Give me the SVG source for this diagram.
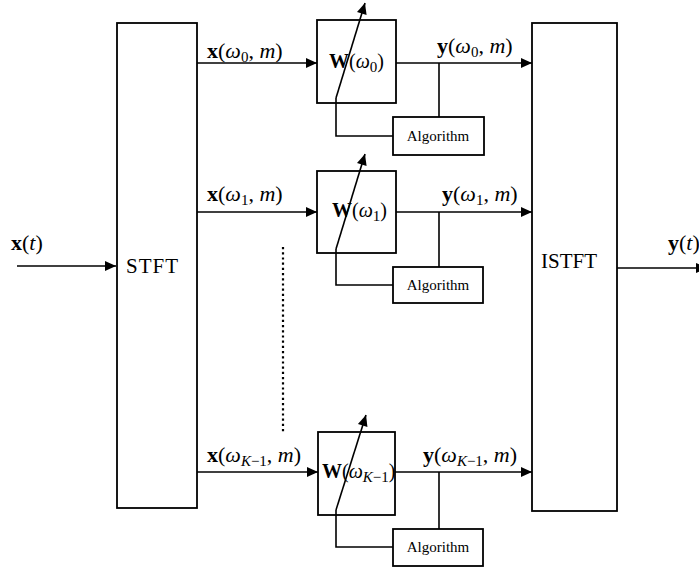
<svg xmlns="http://www.w3.org/2000/svg" width="699" height="567" viewBox="0 0 699 567">
<defs>
<style>
.box{fill:none;stroke:#000;stroke-width:1.8}
.ln{fill:none;stroke:#000;stroke-width:1.6}
.arr{marker-end:url(#ah)}
.dot{fill:none;stroke:#000;stroke-width:2.2;stroke-dasharray:2.2 3}
text{font-family:"Liberation Serif","Times New Roman",serif;fill:#000}
.lbl{font-size:22px}
.wl{font-size:20px}
.big{font-size:21px}
.alg{font-size:15px;text-anchor:middle}
.b{font-weight:bold;font-style:normal}
.i{font-style:italic}
.sub{font-size:15px}
</style>
<marker id="ah" markerUnits="userSpaceOnUse" markerWidth="12" markerHeight="10" refX="11" refY="5" orient="auto" overflow="visible">
<path d="M0,0 L11,5 L0,10 z" fill="#000"/>
</marker>
</defs>
<rect width="699" height="567" fill="#fff"/>

<g id="connectors">
<line class="ln arr" x1="17" y1="266" x2="116" y2="266"/>
<line class="ln arr" x1="617" y1="268" x2="707" y2="268"/>
<!-- row 0 -->
<line class="ln arr" x1="197" y1="63" x2="317" y2="63"/>
<line class="ln arr" x1="396" y1="63" x2="532" y2="63"/>
<line class="ln" x1="439" y1="63" x2="439" y2="117"/>
<polyline class="ln" points="393,136 336,136 336,98"/>
<line class="ln arr" x1="336" y1="98" x2="365" y2="3"/>
<!-- row 1 -->
<line class="ln arr" x1="197" y1="212" x2="317" y2="212"/>
<line class="ln arr" x1="396" y1="212" x2="532" y2="212"/>
<line class="ln" x1="439" y1="212" x2="439" y2="267"/>
<polyline class="ln" points="393,285 336,285 336,249"/>
<line class="ln arr" x1="336" y1="249" x2="365" y2="154"/>
<!-- row K-1 -->
<line class="ln arr" x1="197" y1="472" x2="318" y2="472"/>
<line class="ln arr" x1="395" y1="472" x2="532" y2="472"/>
<line class="ln" x1="439" y1="472" x2="439" y2="529"/>
<polyline class="ln" points="393,547 336,547 336,510"/>
<line class="ln arr" x1="336" y1="510" x2="366" y2="415"/>
<!-- dots -->
<line class="dot" x1="283" y1="247" x2="283" y2="433"/>
</g>

<g id="labels">
<text class="lbl" x="11" y="250"><tspan class="b">x</tspan>(<tspan class="i">t</tspan>)</text>
<text class="lbl" x="668" y="250"><tspan class="b">y</tspan>(<tspan class="i">t</tspan>)</text>
<text class="lbl" x="207" y="58"><tspan class="b">x</tspan>(<tspan class="i">ω</tspan><tspan class="sub" dy="4">0</tspan><tspan dy="-4">,  </tspan><tspan class="i">m</tspan>)</text>
<text class="lbl" x="437" y="53"><tspan class="b">y</tspan>(<tspan class="i">ω</tspan><tspan class="sub" dy="4">0</tspan><tspan dy="-4">,  </tspan><tspan class="i">m</tspan>)</text>
<text class="lbl" x="207" y="201"><tspan class="b">x</tspan>(<tspan class="i">ω</tspan><tspan class="sub" dy="4">1</tspan><tspan dy="-4">,  </tspan><tspan class="i">m</tspan>)</text>
<text class="lbl" x="442" y="201"><tspan class="b">y</tspan>(<tspan class="i">ω</tspan><tspan class="sub" dy="4">1</tspan><tspan dy="-4">,  </tspan><tspan class="i">m</tspan>)</text>
<text class="lbl" x="207" y="462"><tspan class="b">x</tspan>(<tspan class="i">ω</tspan><tspan class="sub" dy="4"><tspan class="i">K</tspan>−1</tspan><tspan dy="-4">,  </tspan><tspan class="i">m</tspan>)</text>
<text class="lbl" x="423" y="462"><tspan class="b">y</tspan>(<tspan class="i">ω</tspan><tspan class="sub" dy="4"><tspan class="i">K</tspan>−1</tspan><tspan dy="-4">,  </tspan><tspan class="i">m</tspan>)</text>
</g>

<g id="stft">
<rect class="box" x="117" y="23" width="80" height="485"/>
<text class="big" x="126" y="273" letter-spacing="1">STFT</text>
</g>
<g id="istft">
<rect class="box" x="532" y="23" width="85" height="488"/>
<text class="big" x="541" y="268">ISTFT</text>
</g>

<g id="w0">
<rect class="box" x="317" y="20" width="79" height="83"/>
<text class="wl" x="329" y="68"><tspan class="b">W</tspan>(<tspan class="i">ω</tspan><tspan class="sub" dy="4">0</tspan><tspan dy="-4">)</tspan></text>
</g>
<g id="alg0">
<rect class="box" x="393" y="117" width="91" height="38"/>
<text class="alg" x="438" y="141">Algorithm</text>
</g>

<g id="w1">
<rect class="box" x="317" y="171" width="79" height="82"/>
<text class="wl" x="332" y="217"><tspan class="b">W</tspan>(<tspan class="i">ω</tspan><tspan class="sub" dy="4">1</tspan><tspan dy="-4">)</tspan></text>
</g>
<g id="alg1">
<rect class="box" x="393" y="267" width="90" height="36"/>
<text class="alg" x="438" y="290">Algorithm</text>
</g>

<g id="wk">
<rect class="box" x="318" y="432" width="77" height="83"/>
<text class="wl" x="322" y="478"><tspan class="b">W</tspan>(<tspan class="i">ω</tspan><tspan class="sub" dy="4"><tspan class="i">K</tspan>−1</tspan><tspan dy="-4">)</tspan></text>
</g>
<g id="algk">
<rect class="box" x="393" y="529" width="90" height="37"/>
<text class="alg" x="438" y="552">Algorithm</text>
</g>
</svg>
